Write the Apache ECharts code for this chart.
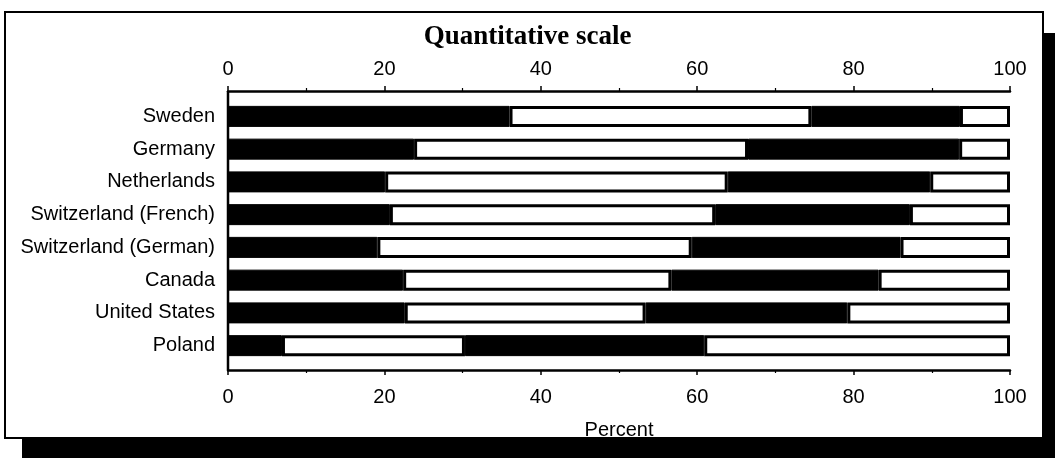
<!DOCTYPE html>
<html>
<head>
<meta charset="utf-8">
<script src="https://cdn.jsdelivr.net/npm/echarts@6/dist/echarts.min.js"></script>
<style>
html,body{margin:0;padding:0;background:#fff;}
#c{width:1055px;height:460px;}
</style>
</head>
<body>
<div id="c"></div>
<script>
const categories = ["Sweden","Germany","Netherlands","Switzerland (French)","Switzerland (German)","Canada","United States","Poland"];
const seg1 = [36.0, 23.8, 20.1, 20.7, 19.1, 22.4, 22.6, 6.9];
const seg2 = [38.6, 42.7, 43.8, 41.6, 40.2, 34.3, 30.8, 23.4];
const seg3 = [19.0, 27.0, 25.9, 24.9, 26.7, 26.5, 25.8, 30.6];
const seg4 = [6.4, 6.5, 10.2, 12.8, 14.0, 16.8, 20.8, 39.1];
const xTicks = [0, 20, 40, 60, 80, 100];

const chart = echarts.init(document.getElementById('c'), null, {renderer:'canvas'});
const sans = '"Liberation Sans", Arial, sans-serif';
const axisCommon = {
  type:'value', min:xTicks[0], max:xTicks[xTicks.length-1], interval:xTicks[1]-xTicks[0],
  axisLine:{show:true, lineStyle:{color:'#000', width:2.5}},
  axisTick:{show:true, length:5, lineStyle:{color:'#000', width:1.5}},
  minorTick:{show:true, splitNumber:2, length:3, lineStyle:{color:'#000', width:1.2}},
  splitLine:{show:false},
  axisLabel:{color:'#000', fontSize:20, fontFamily:sans}
};
function seg(name, data, black){
  return {
    name, type:'bar', stack:'t', data, barWidth:21,
    itemStyle: black ? {color:'#000', borderColor:'#000', borderWidth:1}
                     : {color:'#fff', borderColor:'#000', borderWidth:3},
    emphasis:{disabled:true}, silent:true, z:3
  };
}
chart.setOption({
  animation:false,
  backgroundColor:'#fff',
  title:{text:'Quantitative scale', left:'center', top:19,
    textStyle:{fontFamily:'"Liberation Serif", "Times New Roman", serif', fontWeight:'bold', fontSize:27, color:'#000'}},
  graphic:[
    {type:'rect', z:-10, shape:{x:22, y:33, width:1045, height:425}, style:{fill:'#000'}},
    {type:'rect', z:-9, shape:{x:5, y:12, width:1038, height:426}, style:{fill:'#fff', stroke:'#000', lineWidth:2}},
    {type:'line', z:5, shape:{x1:228, y1:91, x2:228, y2:370}, style:{stroke:'#000', lineWidth:2.5}}
  ],
  grid:{left:228, right:45, top:100, bottom:98, containLabel:false},
  xAxis:[
    Object.assign({}, axisCommon, {position:'top', offset:9, axisLabel:Object.assign({}, axisCommon.axisLabel, {margin:12})}),
    Object.assign({}, axisCommon, {position:'bottom', offset:8, name:'Percent', nameLocation:'middle', nameGap:50,
      nameTextStyle:{color:'#000', fontSize:20, fontFamily:sans},
      axisLabel:Object.assign({}, axisCommon.axisLabel, {margin:17})})
  ],
  yAxis:{type:'category', data:categories, inverse:true,
    axisLine:{show:false}, axisTick:{show:false}, splitLine:{show:false},
    axisLabel:{color:'#000', fontSize:20, fontFamily:sans, margin:13}},
  series:[seg('s1', seg1, true), seg('s2', seg2, false), seg('s3', seg3, true), seg('s4', seg4, false)]
});
</script>
</body>
</html>
